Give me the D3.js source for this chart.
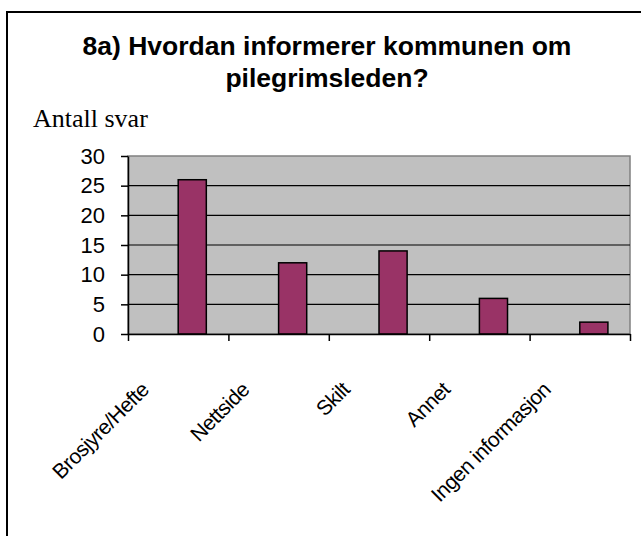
<!DOCTYPE html>
<html>
<head>
<meta charset="utf-8">
<script src="https://cdn.jsdelivr.net/npm/d3@7"></script>
<style>
  html, body { margin: 0; padding: 0; background: #fff; }
</style>
</head>
<body>
<div id="chart"></div>
<script>
// Données
const categories = ["Brosjyre/Hefte", "Nettside", "Skilt", "Annet", "Ingen informasjon"];
const answers = [26, 12, 14, 6, 2];
const yTicks = [0, 5, 10, 15, 20, 25, 30];
const titleLines = ["8a) Hvordan informerer kommunen om", "pilegrimsleden?"];
const yTitle = "Antall svar";

(function() {
    const W = 641, H = 536;
    const plot = {left: 128, right: 630, top: 156, bottom: 334};

    const svg = d3.select("#chart").append("svg")
        .attr("width", W)
        .attr("height", H)
        .style("display", "block");

    // Cadre du graphique (dépasse la fenêtre à droite et en bas)
    svg.append("rect")
        .attr("x", 7).attr("y", 12)
        .attr("width", 700).attr("height", 600)
        .attr("fill", "#fff")
        .attr("stroke", "#000")
        .attr("stroke-width", 2);

    // Titre
    svg.append("text")
        .attr("text-anchor", "middle")
        .style("font-family", "'Liberation Sans', Arial, sans-serif")
        .style("font-weight", "bold")
        .style("font-size", "26.5px")
        .selectAll("tspan")
        .data(titleLines)
        .join("tspan")
        .attr("x", 327)
        .attr("y", (d, i) => 55 + i * 32)
        .text(d => d);

    svg.append("text")
        .attr("x", 33).attr("y", 127)
        .style("font-family", "'Liberation Serif', 'Times New Roman', serif")
        .style("font-size", "26px")
        .text(yTitle);

    // Échelles
    const x = d3.scaleBand().domain(categories).range([plot.left, plot.right]).padding(0);
    const xEdges = d3.scaleLinear().domain([0, categories.length]).range([plot.left, plot.right]);
    const y = d3.scaleLinear().domain([0, 30]).range([plot.bottom, plot.top]);

    // Fond gris
    svg.append("rect")
        .attr("x", plot.left).attr("y", plot.top)
        .attr("width", plot.right - plot.left)
        .attr("height", plot.bottom - plot.top)
        .attr("fill", "#c0c0c0")
        .attr("stroke", "#808080")
        .attr("stroke-width", 1.5);

    // Lignes de grille
    svg.append("g")
        .selectAll("line")
        .data(yTicks.filter(t => t > 0 && t < 30))
        .join("line")
        .attr("x1", plot.left).attr("x2", plot.right)
        .attr("y1", d => y(d)).attr("y2", d => y(d))
        .attr("stroke", "#000")
        .attr("stroke-width", 1.2);

    // Barres
    const bw = x.bandwidth();
    svg.append("g")
        .selectAll("rect")
        .data(categories.map((c, i) => ({cat: c, val: answers[i]})))
        .join("rect")
        .attr("x", d => x(d.cat) + bw * 0.5)
        .attr("y", d => y(d.val))
        .attr("width", bw * 0.28)
        .attr("height", d => y(0) - y(d.val))
        .attr("fill", "#993366")
        .attr("stroke", "#000")
        .attr("stroke-width", 1.5);

    // Axe Y
    svg.append("g")
        .attr("transform", `translate(${plot.left},0)`)
        .call(d3.axisLeft(y).tickValues(yTicks).tickSize(7).tickPadding(16).tickSizeOuter(0))
        .call(g => g.select(".domain").attr("stroke-width", 1.5))
        .call(g => g.selectAll("line").attr("stroke-width", 1.5))
        .call(g => g.selectAll("text")
            .style("font-family", "'Liberation Sans', Arial, sans-serif")
            .style("font-size", "22px")
            .attr("fill", "#000"));

    // Axe X (graduations entre les catégories)
    svg.append("g")
        .attr("transform", `translate(0,${plot.bottom})`)
        .call(d3.axisBottom(xEdges).ticks(categories.length).tickSize(7).tickSizeOuter(0).tickFormat(""))
        .call(g => g.select(".domain").attr("stroke-width", 1.5))
        .call(g => g.selectAll("line").attr("stroke-width", 1.5));

    // Étiquettes inclinées
    svg.append("g")
        .selectAll("text")
        .data(categories)
        .join("text")
        .attr("text-anchor", "end")
        .attr("transform", d => `translate(${x(d) + bw / 2 - 28},391) rotate(-45)`)
        .style("font-family", "'Liberation Sans', Arial, sans-serif")
        .style("font-size", "21px")
        .style("letter-spacing", "-0.5px")
        .text(d => d);
})();
</script>
</body>
</html>
